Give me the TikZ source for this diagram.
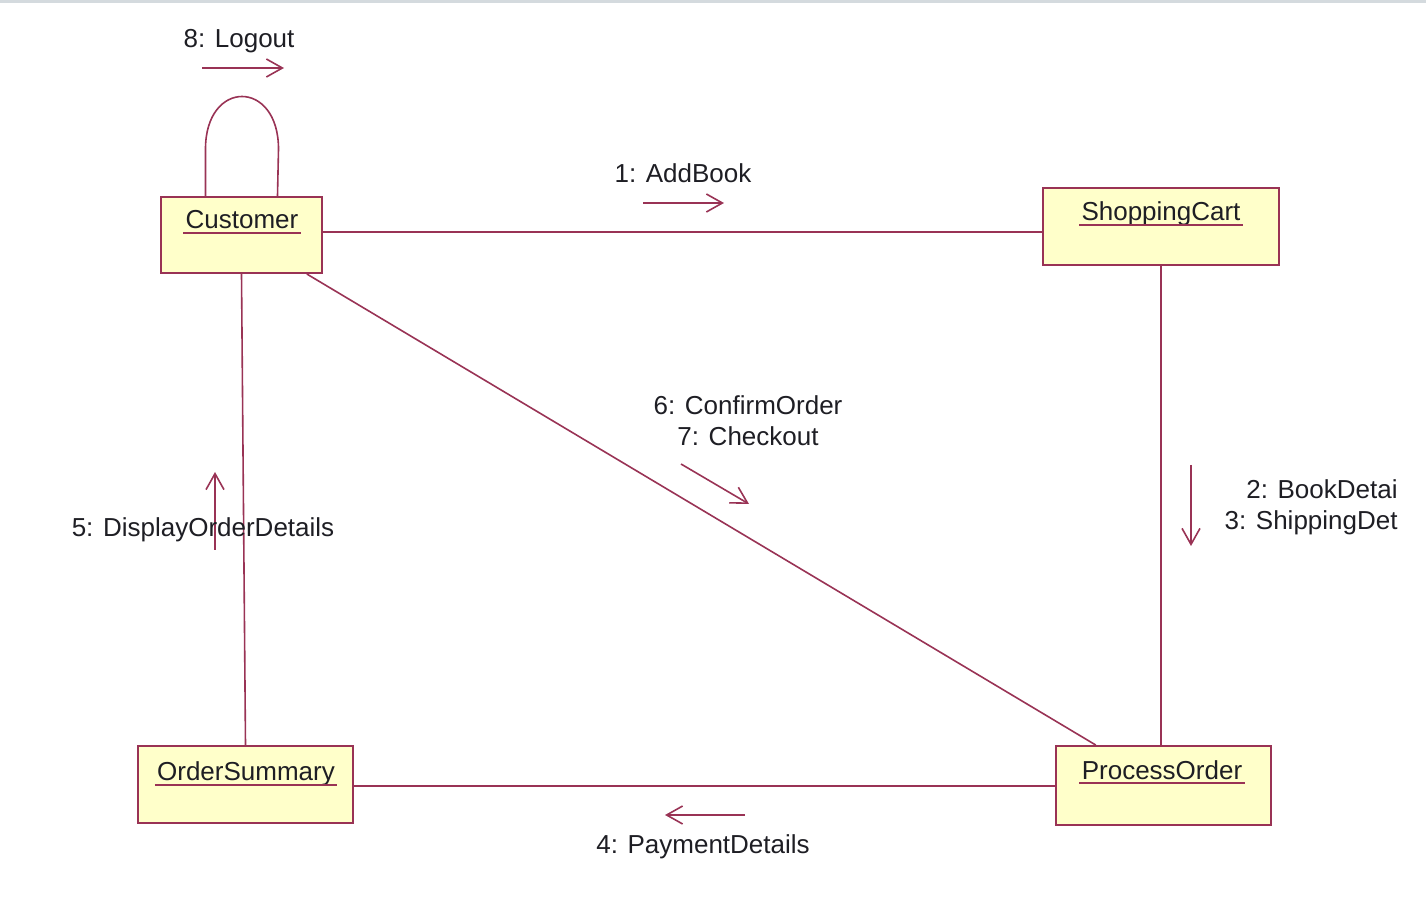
\documentclass[tikz,border=0pt]{standalone}
\usepackage{fontspec}
\setmainfont{Liberation Sans}
\usetikzlibrary{arrows.meta}

\definecolor{umlline}{HTML}{993355}
\definecolor{umlfill}{HTML}{FFFFCA}
\definecolor{umltext}{HTML}{1E1E24}
\definecolor{topbar}{HTML}{D4DADE}

\begin{document}
\begin{tikzpicture} [x=0.5pt,y=-0.5pt,
  font=\fontsize{13}{15.5}\selectfont,
  obj/.style={draw=umlline, fill=umlfill, line width=1pt, inner sep=0pt},
  objname/.style={anchor=base, text=umltext, inner xsep=1pt, inner ysep=2pt, text depth=0pt,
    append after command={(\tikzlastnode.south west) edge[umlline, line width=1pt] (\tikzlastnode.south east)}},
  link/.style={umlline, line width=0.8pt},
  msg/.style={umlline, line width=0.8pt, -{Straight Barb[length=8pt,width=9pt]}},
  msgtext/.style={text=umltext, anchor=base, align=center, inner sep=0pt}]

\useasboundingbox (0,0) rectangle (1426,898);
\draw[topbar, line width=1.5pt] (0,2) -- (1426,2);

% objects
\node[obj, minimum width=80.5pt, minimum height=38pt] (cus) at (241.5,235) {};
\node[obj, minimum width=118pt, minimum height=38.5pt] (shp) at (1161,226.5) {};
\node[obj, minimum width=107.5pt, minimum height=38.5pt] (ord) at (245.5,784.5) {};
\node[obj, minimum width=107.5pt, minimum height=39.5pt] (pro) at (1163.5,785.5) {};

\node[objname] (cusName) at (242,229) {Customer};
\node[objname] (shpName) at (1161,221) {ShoppingCart};
\node[objname] (ordName) at (246,781) {OrderSummary};
\node[objname] (proName) at (1162,779) {ProcessOrder};

% links
\draw[link] ([yshift=1.5pt]cus.east) -- ([yshift=1.5pt]cus.east -| shp.west);
\draw[link] (shp.south) -- (shp.south |- pro.north);
\draw[link] (cus) -- (pro);
\draw[link] (cus.south) -- (ord.north);
\draw[link] ([yshift=-0.75pt]ord.east) -- ([yshift=-0.75pt]ord.east -| pro.west);
\draw[link] ([xshift=-18pt]cus.north) --++(0,-47) .. controls +(0,-70) and +(0,-70) .. ++(73,0) -- ([xshift=18pt]cus.north);

% messages
\coordinate (logA) at (202,68);   \coordinate (logB) at (284,68);
\coordinate (addA) at (643,203);  \coordinate (addB) at (724,203);
\coordinate (conA) at (681,464);  \coordinate (conB) at (749,504);
\coordinate (detA) at (1191,465); \coordinate (detB) at (1191,546);
\coordinate (disA) at (215,550);  \coordinate (disB) at (215,472);
\coordinate (payA) at (745,815);  \coordinate (payB) at (665,815);

\foreach \a/\b in {logA/logB, addA/addB, conA/conB, detA/detB, disA/disB, payA/payB}
\draw[msg] (\a) -- (\b);

\node[msgtext] (logMsg) at (239,48) {8: Logout};
\node[msgtext] (addMsg) at (683,183) {1: AddBook};
\node[msgtext] (conMsg) at (748,446) {6: ConfirmOrder\\7: Checkout};
\node[msgtext] (disMsg) at (203,537) {5: DisplayOrderDetails};
\node[msgtext] (payMsg) at (703,853) {4: PaymentDetails};
\node[msgtext, anchor=base east, align=right] (detMsg) at (1398,530) {2: BookDetai\\3: ShippingDet};

\end{tikzpicture}
\end{document}
